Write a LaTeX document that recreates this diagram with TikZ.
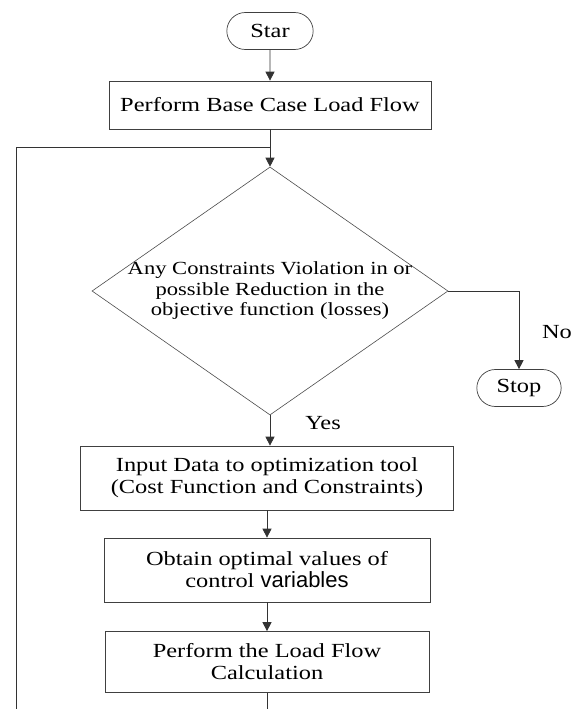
\documentclass[tikz,border=0pt]{standalone}
\usepackage{fontspec}
\setmainfont{Liberation Serif}[FakeStretch=1.22]
\newfontfamily\varfont{Liberation Sans}
\usetikzlibrary{shapes.geometric, shapes.misc, arrows.meta}
\tikzset{
    > = {Triangle[length=9pt, width=9pt]},
    line/.style = {draw=black!80, line width=0.8pt},
    process/.style = {rectangle, draw=black!75, line width=0.7pt, align=center, inner sep=2pt},
    terminal/.style = {rounded rectangle, draw=black!75, line width=0.7pt, minimum height=37pt},
    decision/.style = {diamond, draw=black!70, line width=0.6pt, align=center,
        inner sep=-5pt, shape aspect=1.436, minimum width=356pt, minimum height=248pt}
}

\begin{document}
\begin{tikzpicture}[x=1pt, y=-1pt, every node/.style={font=\fontsize{20}{22}\selectfont}]
    \useasboundingbox (0,0) rectangle (573,709);

    \node[terminal, minimum width=93pt] (start) at (270, 31) {Star};
    \node[process, minimum width=322pt, minimum height=48pt] (base) at (270, 105) {Perform Base Case Load Flow};
    \node[decision, font=\fontsize{18.5}{20.5}\selectfont] (check) at (270, 291)
        {Any Constraints Violation in or\\possible Reduction in the\\objective function (losses)};
    \node[terminal, minimum width=91pt] (stop) at (519, 388) {Stop};
    \node[process, minimum width=373pt, minimum height=64pt] (input) at (267, 478)
        {Input Data to optimization tool\\(Cost Function and Constraints)};
    \node[process, minimum width=326pt, minimum height=64pt] (optimal) at (267, 570)
        {Obtain optimal values of\\control {\varfont\fontsize{22}{22}\selectfont variables}};
    \node[process, minimum width=324pt, minimum height=61pt] (loadflow) at (267, 662)
        {Perform the Load Flow\\Calculation};

    \node (no) at (557, 332) {No};
    \node (yes) at (323, 423) {Yes};

    \coordinate (join) at (270, 147);
    \coordinate (corner) at (16, 147);
    \coordinate (loopstart) at (16, 709);
    \coordinate (loopend) at (267, 709);

    \draw[line, ->] (start) -- (base);
    \draw[line, ->] (base) -- (check);
    \draw[line] (loopstart) -- (corner) -- (join);
    \draw[line, ->] (check) -| (stop);
    \draw[line, ->] (check.south) -- (check.south |- input.north);
    \draw[line, ->] (input) -- (optimal);
    \draw[line, ->] (optimal) -- (loadflow);
    \draw[line] (loadflow) -- (loopend);
\end{tikzpicture}
\end{document}
